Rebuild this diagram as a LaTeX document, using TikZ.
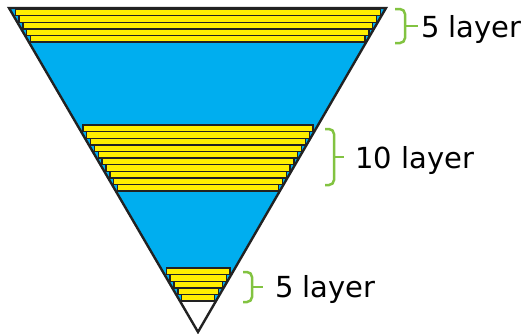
\documentclass[tikz,border=0pt]{standalone}
\usepackage{fontspec}
\setmainfont{DejaVu Sans}
\usetikzlibrary{calc}
\definecolor{water}{HTML}{00AEEF}
\definecolor{sand}{HTML}{FFEE00}
\definecolor{bracegreen}{HTML}{82C341}
\definecolor{ink}{HTML}{222222}

\begin{document}
\begin{tikzpicture}[x=1pt,y=-1pt,
  layer/.style={draw=ink, line width=1.4pt, fill=sand},
  brc/.style={draw=bracegreen, line width=2.5pt, rounded corners=5pt},
  lbl/.style={anchor=base west, inner sep=0pt, font=\fontsize{29}{34}\selectfont},
]
\useasboundingbox (0,0) rectangle (523,333);
\coordinate (tl) at (9,8);
\coordinate (tr) at (386,8);
\coordinate (apex) at (198,332);

% blue body, white tip
\fill[water] (tl) -- (tr) -- (apex) -- cycle;
\fill[white] ($(tl)!0.907!(apex)$) -- ($(tr)!0.907!(apex)$) -- (apex) -- cycle;

% layers
\foreach \ytop/\n in {9/5, 125/10, 268/5}{
  \foreach \i in {1,...,\n}{
    \pgfmathsetmacro\ya{\ytop+(\i-1)*6.6}
    \pgfmathsetmacro\yb{\ya+6.6}
    \pgfmathsetmacro\xa{9+(\yb-8)/324*189+1.8}
    \pgfmathsetmacro\xb{386-(\yb-8)/324*188-1.2}
    \draw[layer] (\xa,\ya) rectangle (\xb,\yb);
  }
}

% outline
\draw[ink, line width=2.4pt] (tl) -- (tr) -- (apex) -- cycle;

% braces
\foreach \xa/\xv/\xt/\ya/\yb in {395/405/418/9/43, 325/334/344/129/185, 243/252/263/272/302}{
  \draw[brc] (\xa,\ya) -| (\xv,\yb) -- (\xa,\yb);
  \draw[brc] (\xv,{(\ya+\yb)/2}) -- (\xt,{(\ya+\yb)/2});
}

\node[lbl] (top) at (421,37) {5 layer};
\node[lbl] (mid) at (355,168) {10 layer};
\node[lbl] (bot) at (275,297) {5 layer};
\end{tikzpicture}
\end{document}
